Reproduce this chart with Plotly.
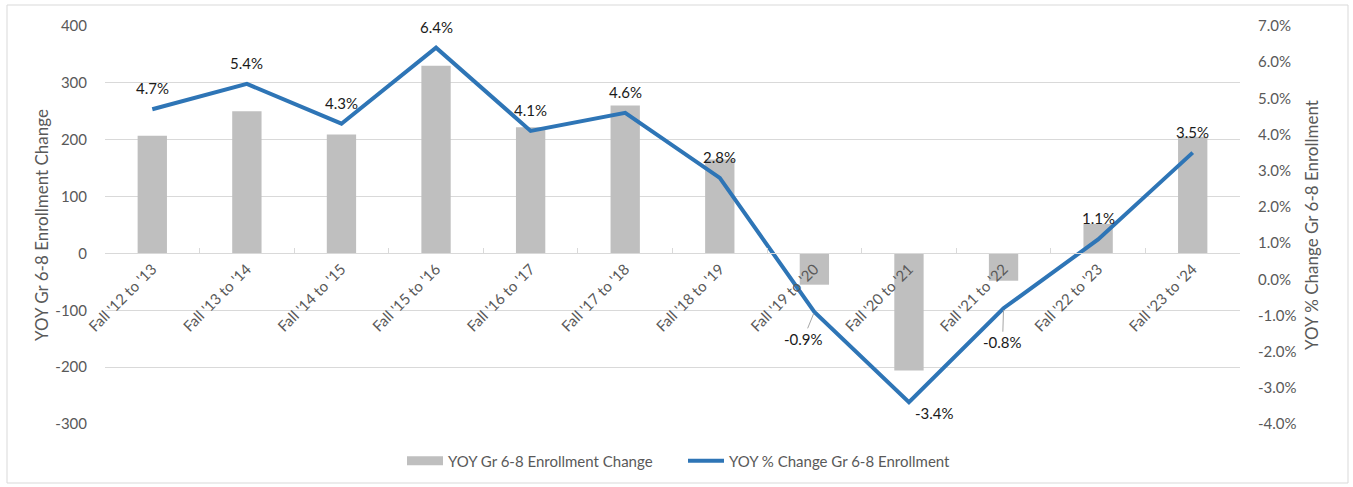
import plotly.graph_objects as go

categories = ["Fall '12 to '13", "Fall '13 to '14", "Fall '14 to '15", "Fall '15 to '16",
              "Fall '16 to '17", "Fall '17 to '18", "Fall '18 to '19", "Fall '19 to '20",
              "Fall '20 to '21", "Fall '21 to '22", "Fall '22 to '23", "Fall '23 to '24"]
enroll_change = [207, 250, 209, 330, 222, 260, 165, -55, -206, -48, 52, 205]
pct_change = [0.047, 0.054, 0.043, 0.064, 0.041, 0.046, 0.028, -0.009, -0.034, -0.008, 0.011, 0.035]

left_ticks = [-300, -200, -100, 0, 100, 200, 300, 400]
left_ticktext = ["-300", "-200", "-100", "0", "100", "200", "300", "400"]
right_ticks = [-0.04, -0.03, -0.02, -0.01, 0.0, 0.01, 0.02, 0.03, 0.04, 0.05, 0.06, 0.07]
right_ticktext = ["-4.0%", "-3.0%", "-2.0%", "-1.0%", "0.0%", "1.0%", "2.0%", "3.0%",
                  "4.0%", "5.0%", "6.0%", "7.0%"]

FONT = "Lato"
GRAY_TXT = "#595959"
GRID = "#d9d9d9"
BAR_COLOR = "#bfbfbf"
LINE_COLOR = "#2e75b6"

fig = go.Figure()
fig.add_trace(go.Bar(x=categories, y=enroll_change, name="YOY Gr 6-8 Enrollment Change",
                     marker=dict(color=BAR_COLOR, line=dict(width=0)), yaxis="y",
                     showlegend=False))
fig.add_trace(go.Scatter(x=categories, y=pct_change, name="YOY % Change Gr 6-8 Enrollment",
                         mode="lines", line=dict(color=LINE_COLOR, width=4), yaxis="y2",
                         showlegend=False))
# legend-only entries (wide swatches like the original legend)
fig.add_trace(go.Scatter(x=[None], y=[None], name="YOY Gr 6-8 Enrollment Change",
                         mode="lines", line=dict(color=BAR_COLOR, width=9)))
fig.add_trace(go.Scatter(x=[None], y=[None], name="YOY % Change Gr 6-8 Enrollment",
                         mode="lines", line=dict(color=LINE_COLOR, width=4)))

def fmt(v):
    s = f"{abs(v)*100:.1f}%"
    return ("-" + s) if v < 0 else s

annotations = []
for c, v in zip(categories, pct_change):
    txt = fmt(v)
    base = dict(x=c, y=v, xref="x", yref="y2", text=txt,
                font=dict(family=FONT, size=15, color="#1a1a1a"))
    if txt == "-0.9%":
        base.update(showarrow=True, ax=-11, ay=27, arrowhead=0, arrowwidth=1,
                    arrowcolor="#a6a6a6", standoff=2)
    elif txt == "-0.8%":
        base.update(showarrow=True, ax=-1, ay=34, arrowhead=0, arrowwidth=1,
                    arrowcolor="#a6a6a6", standoff=2)
    elif txt == "-3.4%":
        base.update(showarrow=False, xshift=26, yshift=-11)
    else:
        base.update(showarrow=False, yshift=21)
    annotations.append(base)

fig.update_layout(
    width=1353, height=487,
    margin=dict(l=105, r=113, t=26, b=63, autoexpand=False),
    paper_bgcolor="white", plot_bgcolor="white",
    font=dict(family=FONT, size=15, color=GRAY_TXT),
    bargap=0.69,
    showlegend=True,
    legend=dict(orientation="h", xref="container", x=402/1353, xanchor="left",
                yref="container", y=1 - 461/487, yanchor="middle",
                font=dict(family=FONT, size=15, color=GRAY_TXT), itemwidth=36,
                entrywidth=230, traceorder="normal"),
    xaxis=dict(type="category", anchor="free", position=300/700,
               showline=True, linecolor=GRID, linewidth=1, showgrid=False,
               ticks="inside", ticklen=5, tickcolor=GRID, tickson="boundaries",
               tickangle=-45, tickfont=dict(family=FONT, size=15, color=GRAY_TXT)),
    yaxis=dict(range=[-300, 400], tickvals=left_ticks, ticktext=left_ticktext,
               showgrid=True, gridcolor=GRID, zeroline=False, showline=False,
               ticklabelstandoff=17,
               tickfont=dict(family=FONT, size=15, color=GRAY_TXT),
               title=dict(text="YOY Gr 6-8 Enrollment Change", standoff=2,
                          font=dict(family=FONT, size=17, color=GRAY_TXT))),
    yaxis2=dict(range=[-0.04, 0.07], overlaying="y", side="right",
                tickvals=right_ticks, ticktext=right_ticktext,
                showgrid=False, zeroline=False, showline=False,
                ticklabelstandoff=17,
                tickfont=dict(family=FONT, size=15, color=GRAY_TXT),
                title=dict(text="YOY % Change Gr 6-8 Enrollment", standoff=10,
                           font=dict(family=FONT, size=17, color=GRAY_TXT))),
    annotations=annotations,
    hovermode=False,
    shapes=[dict(type="rect", xref="paper", yref="paper",
                 x0=-98/1135, x1=1243/1135, y0=-59/398, y1=419/398,
                 line=dict(color="#d9d9d9", width=1), fillcolor="rgba(0,0,0,0)",
                 layer="below")],
)

fig.write_html("out.html", config={"displayModeBar": False},
               post_script="document.body.style.margin='0px';document.body.style.overflow='hidden';")
